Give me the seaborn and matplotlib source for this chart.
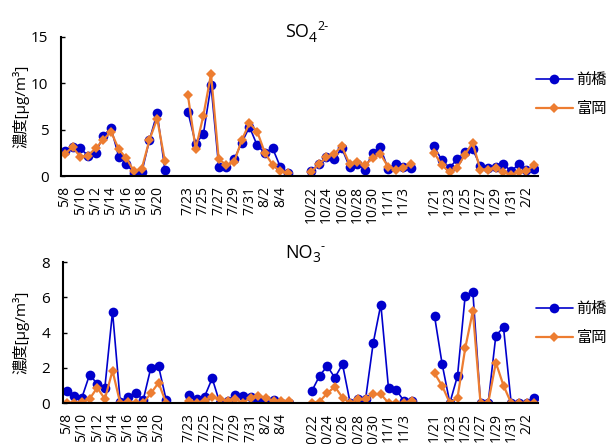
import numpy as np
import pandas as pd
import matplotlib
matplotlib.use("Agg")
import matplotlib.pyplot as plt
import seaborn as sns
from matplotlib.lines import Line2D

# sampling dates, four 14-day campaigns
dates_may = ["5/8", "5/9", "5/10", "5/11", "5/12", "5/13", "5/14",
             "5/15", "5/16", "5/17", "5/18", "5/19", "5/20", "5/21"]
dates_jul = ["7/23", "7/24", "7/25", "7/26", "7/27", "7/28", "7/29",
             "7/30", "7/31", "8/1", "8/2", "8/3", "8/4", "8/5"]
dates_oct = ["10/22", "10/23", "10/24", "10/25", "10/26", "10/27", "10/28",
             "10/29", "10/30", "10/31", "11/1", "11/2", "11/3", "11/4"]
dates_jan = ["1/21", "1/22", "1/23", "1/24", "1/25", "1/26", "1/27",
             "1/28", "1/29", "1/30", "1/31", "2/1", "2/2", "2/3"]

# SO4 2- [ug/m3]
so4_maebashi = [2.7, 3.1, 3.0, 2.2, 2.5, 4.3, 5.2, 2.1, 1.3, 0.3, 0.4, 3.9, 6.8, 0.7,
                6.9, 3.5, 4.5, 9.8, 1.0, 1.0, 1.8, 3.6, 5.3, 3.3, 2.5, 3.0, 1.0, 0.3,
                0.5, 1.3, 2.0, 1.8, 3.0, 1.0, 1.3, 0.7, 2.5, 3.1, 0.8, 1.3, 1.0, 0.9,
                3.2, 1.7, 0.9, 1.8, 2.6, 2.9, 1.1, 0.9, 1.0, 1.3, 0.5, 1.3, 0.6, 0.8]
so4_tomioka = [2.4, 3.1, 2.1, 2.2, 3.0, 3.9, 4.8, 2.9, 1.9, 0.5, 0.8, 3.9, 6.2, 1.6,
               8.7, 2.9, 6.5, 11.0, 1.8, 1.2, 1.5, 3.9, 5.7, 4.8, 2.5, 1.2, 0.5, 0.3,
               0.4, 1.3, 2.0, 2.4, 3.2, 1.3, 1.5, 1.2, 1.9, 2.4, 1.0, 0.7, 0.9, 1.3,
               2.5, 1.2, 0.4, 0.9, 2.3, 3.6, 0.7, 0.7, 0.9, 0.4, 0.15, 0.4, 0.5, 1.2]

# NO3 - [ug/m3]
no3_maebashi = [0.68, 0.42, 0.3, 1.6, 1.1, 0.87, 5.2, 0.08, 0.36, 0.59, 0.17, 2.0, 2.1, 0.17,
                0.45, 0.2, 0.36, 1.4, 0.0, 0.1, 0.45, 0.42, 0.36, 0.11, 0.17, 0.17, 0.02, 0.02,
                0.68, 1.54, 2.1, 1.44, 2.2, 0.0, 0.2, 0.2, 3.4, 5.6, 0.83, 0.74, 0.13, 0.13,
                4.95, 2.2, 0.0, 1.54, 6.1, 6.33, 0.0, 0.0, 3.83, 4.3, 0.0, 0.0, 0.0, 0.27]
no3_tomioka = [0.0, 0.0, 0.05, 0.23, 0.87, 0.23, 1.84, 0.0, 0.08, 0.0, 0.0, 0.55, 1.15, 0.0,
               0.11, 0.0, 0.13, 0.36, 0.23, 0.1, 0.23, 0.0, 0.3, 0.42, 0.27, 0.11, 0.11, 0.11,
               0.0, 0.08, 0.55, 0.93, 0.3, 0.0, 0.2, 0.2, 0.5, 0.5, 0.0, 0.0, 0.0, 0.13,
               1.69, 0.97, 0.0, 0.3, 3.1, 5.23, 0.0, 0.0, 2.3, 0.99, 0.0, 0.0, 0.0, 0.0]

sites = ["前橋", "富岡"]
colors = {"前橋": "#0000CC", "富岡": "#ED7D31"}
markers = {"前橋": "o", "富岡": "D"}

segments = [dates_may, dates_jul, dates_oct, dates_jan]
gap = 2  # empty categories between campaigns

rows_pos, rows_date, rows_seg = [], [], []
for s, seg in enumerate(segments):
    for j, d in enumerate(seg):
        rows_pos.append(s * (len(seg) + gap) + j)
        rows_date.append(d)
        rows_seg.append(s)
n_cat = rows_pos[-1] + 1


def make_df(a, b):
    parts = []
    for site, vals in zip(sites, [a, b]):
        parts.append(pd.DataFrame({"pos": rows_pos, "date": rows_date, "seg": rows_seg,
                                   "site": site, "val": vals}))
    return pd.concat(parts, ignore_index=True)


sns.set_style("white")
plt.rcParams["font.family"] = ["Open Sans", "Noto Sans CJK JP"]
plt.rcParams["text.color"] = "black"
plt.rcParams["xtick.color"] = "black"
plt.rcParams["ytick.color"] = "black"

W, H = 612, 444
fig = plt.figure(figsize=(W / 100, H / 100), dpi=100)
ax1 = fig.add_axes([61 / W, 1 - 176 / H, 477 / W, 139 / H])
ax2 = fig.add_axes([62.7 / W, 1 - 403 / H, 475.3 / W, 140.7 / H])
renderer = fig.canvas.get_renderer()

ms_blue, ms_orange = 7.0, 5.5
lw_blue, lw_orange = 1.2, 1.6


def chem_title(x_px, base_px, main, sub, sup):
    t = fig.text(x_px / W, 1 - base_px / H, main, fontsize=13, ha="left", va="baseline")
    x1 = t.get_window_extent(renderer).x1
    s = fig.text(x1 / W, 1 - (base_px + 5) / H, sub, fontsize=10, ha="left", va="baseline")
    x2 = s.get_window_extent(renderer).x1
    fig.text(x2 / W + 0.5 / W, 1 - (base_px - 7) / H, sup, fontsize=9, ha="left", va="baseline")


panels = [
    (ax1, make_df(so4_maebashi, so4_tomioka), [0, 5, 10, 15], ("SO", "4", "2-"), 36.7, 95),
    (ax2, make_df(no3_maebashi, no3_tomioka), [0, 2, 4, 6, 8], ("NO", "3", "-"), 257.5, 324),
]

for ax, df, yt, title, title_base, leg_y in panels:
    sns.lineplot(data=df, x="pos", y="val", hue="site", style="site", units="seg",
                 estimator=None, palette=colors, markers=markers, dashes=False,
                 hue_order=sites, style_order=sites, ax=ax, legend=False,
                 markersize=6, markeredgewidth=0)
    for ln in ax.lines:
        if matplotlib.colors.to_hex(ln.get_color()).lower() == "#0000cc":
            ln.set_linewidth(lw_blue)
            ln.set_markersize(ms_blue)
        else:
            ln.set_linewidth(lw_orange)
            ln.set_markersize(ms_orange)

    ax.set_xlim(-0.5, n_cat - 0.5)
    ax.set_ylim(yt[0], yt[-1])
    ax.set_yticks(yt)
    lab_pos = [p for k, p in enumerate(rows_pos) if (k % 14) % 2 == 0]
    lab_txt = [d for k, d in enumerate(rows_date) if (k % 14) % 2 == 0]
    ax.set_xticks(lab_pos)
    ax.set_xticklabels(lab_txt, rotation=90, fontsize=10)
    ax.set_xticks(np.arange(-0.5, n_cat, 1.0), minor=True)
    ax.tick_params(axis="x", which="major", length=0, pad=7)
    ax.tick_params(axis="x", which="minor", direction="in", length=3, width=1, color="black")
    ax.tick_params(axis="y", direction="in", length=3, width=1, color="black",
                   labelsize=11, pad=9, left=True)
    ax.set_xlabel("")
    ax.set_ylabel("")
    for side in ["top", "right"]:
        ax.spines[side].set_visible(False)
    for side in ["left", "bottom"]:
        ax.spines[side].set_color("black")
        ax.spines[side].set_linewidth(1.5)

    chem_title(285, title_base, *title)
    pos = ax.get_position()
    fig.text(21 / W, (pos.y0 + pos.y1) / 2, "濃度[μg/m³]", rotation=90,
             fontsize=11, ha="center", va="center")

    handles = [Line2D([], [], color=colors["前橋"], marker="o", markersize=ms_blue, lw=lw_blue, markeredgewidth=0),
               Line2D([], [], color=colors["富岡"], marker="D", markersize=ms_orange, lw=lw_orange, markeredgewidth=0)]
    fig.legend(handles, sites, loc="center left", bbox_to_anchor=(536 / W, 1 - leg_y / H),
               frameon=False, fontsize=11, handlelength=2.4, handletextpad=0.25,
               labelspacing=0.9, borderpad=0, borderaxespad=0)

fig.savefig("out.png", dpi=100)
